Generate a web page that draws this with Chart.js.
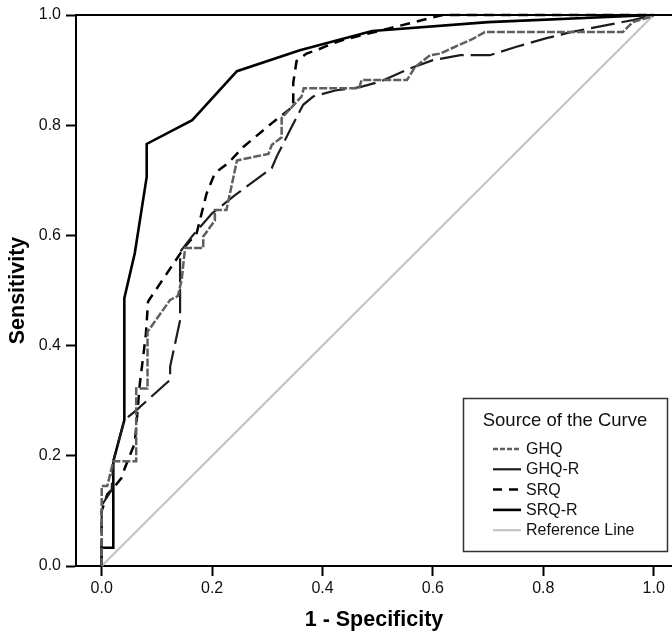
<!DOCTYPE html>
<html><head><meta charset="utf-8">
<script src="https://cdn.jsdelivr.net/npm/chart.js@4.4.1/dist/chart.umd.min.js"></script>
<style>html,body{margin:0;padding:0;background:#fff}#wrap{width:672px;height:633px;position:relative}</style>
</head><body><div id="wrap"><canvas id="c" width="672" height="633"></canvas></div>
<script>
// ---- data ----
const xTickValues = [0, 0.2, 0.4, 0.6, 0.8, 1.0];
const xTickLabels = ['0.0', '0.2', '0.4', '0.6', '0.8', '1.0'];
const yTickValues = [0, 0.2, 0.4, 0.6, 0.8, 1.0];
const yTickLabels = ['0.0', '0.2', '0.4', '0.6', '0.8', '1.0'];
const seriesNames = ['GHQ', 'GHQ-R', 'SRQ', 'SRQ-R', 'Reference Line'];
const legendTitle = 'Source of the Curve';
const xTitle = '1 - Specificity';
const yTitle = 'Sensitivity';

const ghqX = [0, 0, 0.01, 0.021, 0.0625, 0.0625, 0.083, 0.083, 0.124, 0.138, 0.145, 0.151, 0.184, 0.184, 0.205, 0.205, 0.226, 0.245, 0.302, 0.308, 0.326, 0.326, 0.362, 0.366, 0.466, 0.471, 0.553, 0.568, 0.595, 0.613, 0.673, 0.694, 0.944, 0.962, 0.993, 1];
const ghqY = [0, 0.145, 0.145, 0.19, 0.19, 0.322, 0.322, 0.425, 0.483, 0.49, 0.52, 0.577, 0.577, 0.598, 0.627, 0.646, 0.646, 0.736, 0.748, 0.764, 0.778, 0.813, 0.852, 0.867, 0.867, 0.882, 0.882, 0.906, 0.927, 0.93, 0.957, 0.969, 0.969, 0.987, 0.996, 1];

const ghqrX = [0, 0, 0.018, 0.021, 0.041, 0.063, 0.124, 0.124, 0.142, 0.142, 0.165, 0.2, 0.2415, 0.308, 0.317, 0.341, 0.365, 0.383, 0.423, 0.468, 0.504, 0.558, 0.6, 0.65, 0.703, 0.75, 0.806, 0.85, 0.963, 1];
const ghqrY = [0, 0.11, 0.138, 0.19, 0.265, 0.283, 0.338, 0.362, 0.446, 0.57, 0.6, 0.64, 0.673, 0.722, 0.743, 0.791, 0.837, 0.852, 0.863, 0.869, 0.879, 0.903, 0.918, 0.927, 0.927, 0.942, 0.958, 0.969, 0.991, 1];

const srqX = [0, 0, 0.01, 0.02, 0.036, 0.042, 0.06, 0.062, 0.069, 0.08, 0.084, 0.106, 0.151, 0.172, 0.181, 0.19, 0.205, 0.229, 0.257, 0.311, 0.347, 0.347, 0.353, 0.371, 0.389, 0.42, 0.438, 0.522, 0.598, 0.618, 1];
const srqY = [0, 0.1, 0.13, 0.14, 0.16, 0.178, 0.223, 0.247, 0.33, 0.42, 0.48, 0.513, 0.58, 0.604, 0.64, 0.676, 0.713, 0.731, 0.761, 0.806, 0.834, 0.877, 0.9165, 0.93, 0.936, 0.949, 0.955, 0.976, 0.995, 1, 1];

const srqrX = [0, 0, 0.021, 0.021, 0.041, 0.041, 0.060, 0.0815, 0.0815, 0.164, 0.245, 0.359, 0.49, 0.7, 1];
const srqrY = [0, 0.033, 0.033, 0.19, 0.265, 0.486, 0.568, 0.706, 0.766, 0.809, 0.898, 0.936, 0.971, 0.987, 1];

const refX = [0, 1];
const refY = [0, 1];

// ---- build ----
function pts(xs, ys) { return xs.map((x, i) => ({ x: x, y: ys[i] })); }
const FONT = "'Liberation Sans', Arial, Helvetica, sans-serif";

const datasets = [
  { label: seriesNames[0], data: pts(ghqX, ghqY), borderColor: '#5f5f5f', borderWidth: 2.5, borderDash: [8, 2], legendDash: [5, 2], order: 1 },
  { label: seriesNames[1], data: pts(ghqrX, ghqrY), borderColor: '#1c1c1c', borderWidth: 2.2, borderDash: [24, 7], legendDash: [], order: 2 },
  { label: seriesNames[2], data: pts(srqX, srqY), borderColor: '#000000', borderWidth: 2.5, borderDash: [10, 7], legendDash: [9, 7], order: 3 },
  { label: seriesNames[3], data: pts(srqrX, srqrY), borderColor: '#000000', borderWidth: 2.6, borderDash: [], legendDash: [], order: 4 },
  { label: seriesNames[4], data: pts(refX, refY), borderColor: '#c4c4c4', borderWidth: 2.2, borderDash: [], legendDash: [], order: 5 }
];
datasets.forEach(d => { d.fill = false; d.pointRadius = 0; d.tension = 0; d.clip = 6; });

const topLine = {
  id: 'topLine',
  afterDraw(chart) {
    const { ctx, chartArea: a } = chart;
    ctx.save();
    ctx.strokeStyle = '#000'; ctx.lineWidth = 2;
    ctx.beginPath(); ctx.moveTo(a.left - 1, a.top); ctx.lineTo(a.right, a.top); ctx.stroke();
    ctx.restore();
  }
};

const boxLegend = {
  id: 'boxLegend',
  afterDraw(chart) {
    const ctx = chart.ctx;
    ctx.save();
    ctx.fillStyle = '#fff';
    ctx.fillRect(463.5, 398.5, 204, 153);
    ctx.strokeStyle = '#333'; ctx.lineWidth = 1.5;
    ctx.strokeRect(463.5, 398.5, 204, 153);
    ctx.fillStyle = '#111';
    ctx.textBaseline = 'middle';
    ctx.textAlign = 'center';
    ctx.font = '18.5px ' + FONT;
    ctx.fillText(legendTitle, 565, 421);
    ctx.textAlign = 'left';
    ctx.font = '16px ' + FONT;
    chart.data.datasets.forEach((d, i) => {
      const y = 449 + i * 20.3;
      ctx.strokeStyle = d.borderColor; ctx.lineWidth = d.borderWidth;
      ctx.setLineDash(d.legendDash);
      ctx.beginPath(); ctx.moveTo(493, y); ctx.lineTo(521, y); ctx.stroke();
      ctx.setLineDash([]);
      ctx.fillStyle = '#111';
      ctx.fillText(d.label, 526, y + 0.5);
    });
    ctx.restore();
  }
};

new Chart(document.getElementById('c'), {
  type: 'line',
  data: { datasets: datasets },
  plugins: [topLine, boxLegend],
  options: {
    responsive: false,
    animation: false,
    parsing: true,
    layout: { padding: { top: 15, left: 0, right: 0, bottom: 0 } },
    plugins: { legend: { display: false }, tooltip: { enabled: false } },
    scales: {
      x: {
        type: 'linear',
        min: -0.04656, max: 1.03315,
        afterBuildTicks: s => { s.ticks = xTickValues.map(v => ({ value: v })); },
        afterFit: s => { s.height = 67; },
        ticks: { callback: (v, i) => xTickLabels[i], font: { family: FONT, size: 16 }, color: '#111', padding: 3, maxRotation: 0, autoSkip: false },
        grid: { drawOnChartArea: false, drawTicks: true, tickLength: 10, tickWidth: 2, tickColor: '#000' },
        border: { display: true, color: '#000', width: 2 },
        title: { display: true, text: xTitle, color: '#000', font: { family: FONT, size: 21.5, weight: 'bold', lineHeight: 1.22 }, padding: { top: 0, bottom: 0 } }
      },
      y: {
        type: 'linear',
        min: 0, max: 1,
        afterBuildTicks: s => { s.ticks = yTickValues.map(v => ({ value: v })); },
        afterFit: s => { s.width = 76; },
        ticks: { callback: (v, i) => yTickLabels[i], font: { family: FONT, size: 16 }, color: '#111', padding: 5, autoSkip: false },
        grid: { drawOnChartArea: false, drawTicks: true, tickLength: 10, tickWidth: 2, tickColor: '#000' },
        border: { display: true, color: '#000', width: 2 },
        title: { display: true, text: yTitle, color: '#000', font: { family: FONT, size: 21.5, weight: 'bold', lineHeight: 1.2 }, padding: { top: 5, bottom: 0 } }
      }
    }
  }
});
</script>
</body></html>
